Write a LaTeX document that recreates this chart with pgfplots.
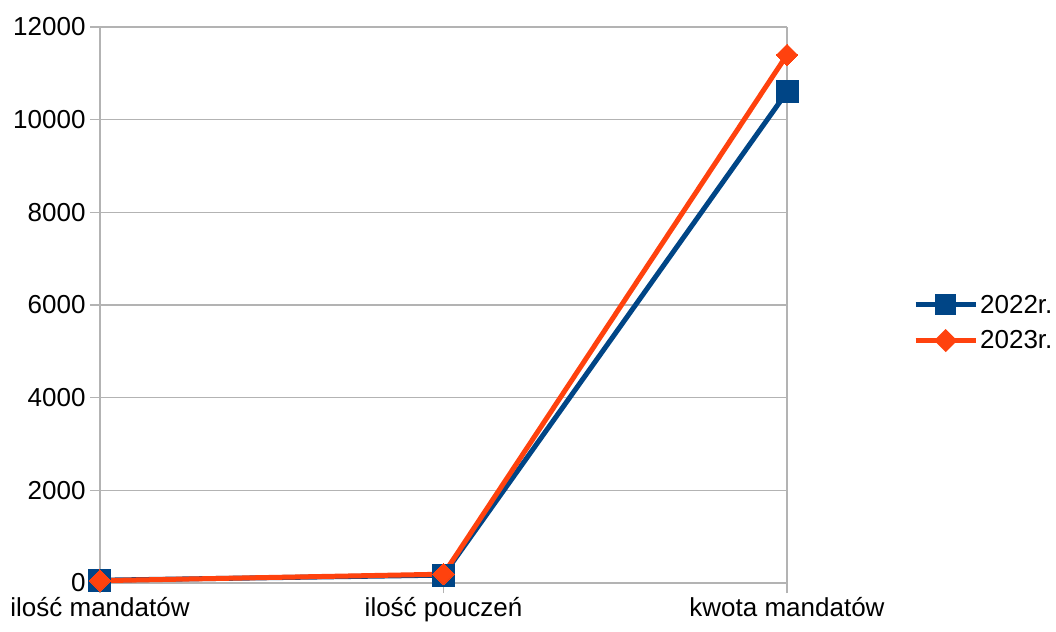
\documentclass[border=0pt]{standalone}
\usepackage{fontspec}
\setmainfont{Liberation Sans}
\usepackage{pgfplots}
\pgfplotsset{compat=1.18}
\definecolor{lblue}{HTML}{004586}
\definecolor{lorange}{HTML}{FF420E}
\definecolor{gridgray}{HTML}{B3B3B3}
\begin{document}
\begin{tikzpicture}
\begin{axis}[
  at={(0,0)}, anchor=south west,
  scale only axis,
  width=687bp, height=556bp,
  xmin=0, xmax=2, ymin=0, ymax=12000,
  xtick={0,1,2},
  xticklabels={ilość mandatów, ilość pouczeń, kwota mandatów},
  ytick={0,2000,...,12000},
  scaled y ticks=false,
  xtick pos=bottom, ytick pos=left,
  ymajorgrids,
  grid style={gridgray, line width=1.2bp},
  axis line style={draw=none},
  tick style={gridgray, line width=1.2bp},
  tick align=outside,
  major tick length=10bp,
  extra x ticks={0,2},
  extra x tick labels={},
  extra x tick style={xmajorgrids, xtick pos=bottom, grid style={gridgray, line width=1.2bp}, major tick length=10bp},
  /pgf/number format/assume math mode=true,
  /pgf/number format/1000 sep={},
  ticklabel style={font=\fontsize{26bp}{31bp}\selectfont},
  xticklabel style={yshift=-1bp},
  yticklabel style={xshift=-1bp},
  legend style={at={(axis description cs:1.179,0.468)}, anchor=west, draw=none, fill=none,
    font=\fontsize{26bp}{31bp}\selectfont, row sep=12bp},
  legend cell align=left,
  clip=false,
]
\addplot[lblue, line width=5bp, mark=square*, mark size=11bp, mark options={line width=0pt, draw=none},
  legend image code/.code={\draw[line width=5bp] (0bp,0bp) -- (60bp,0bp); \fill (22bp,-8bp) rectangle (38bp,8bp);}]
  coordinates {(0,60) (1,170) (2,10600)};
\addlegendentry{2022r.}
\addplot[lorange, line width=5bp, mark=square*, mark size=7.6bp, mark options={rotate=45, line width=0pt, draw=none},
  legend image code/.code={\draw[line width=5bp] (0bp,0bp) -- (60bp,0bp); \fill (22bp,0bp) -- (30bp,8bp) -- (38bp,0bp) -- (30bp,-8bp) -- cycle;}]
  coordinates {(0,50) (1,190) (2,11400)};
\addlegendentry{2023r.}
\end{axis}
\pgfresetboundingbox
\path[use as bounding box] (-100bp,-49bp) rectangle (956bp,583bp);
\end{tikzpicture}
\end{document}
